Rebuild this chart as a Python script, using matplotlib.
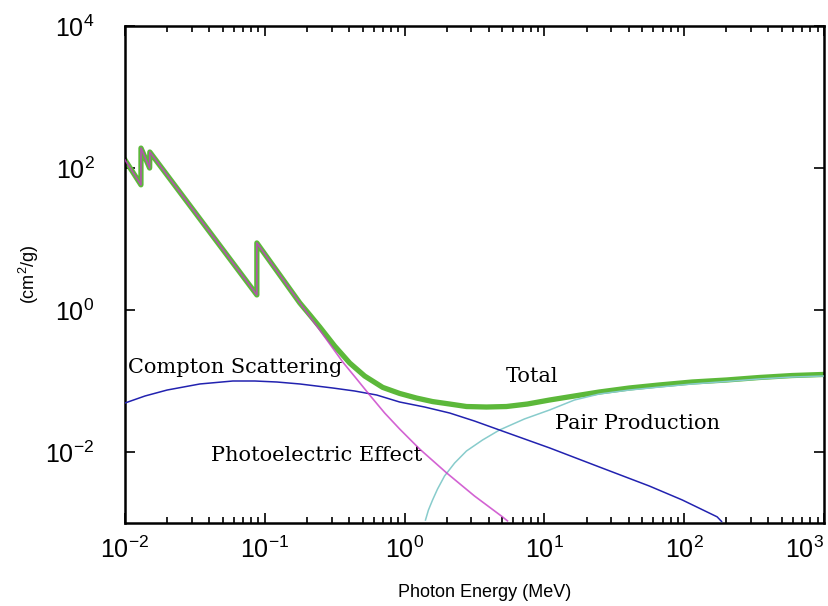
import matplotlib
matplotlib.use('Agg')
import matplotlib.pyplot as plt
from matplotlib.ticker import LogLocator, NullFormatter, FixedLocator

plt.rcParams['font.family'] = ['Liberation Sans', 'DejaVu Sans']
plt.rcParams['mathtext.fontset'] = 'custom'
plt.rcParams['mathtext.rm'] = 'Liberation Sans'
plt.rcParams['mathtext.it'] = 'Liberation Sans:italic'

# --- Mass attenuation data (energy in MeV, mu in cm^2/g) ---
total_E = [0.01, 0.0130, 0.01301, 0.0150, 0.01505, 0.0877, 0.08771, 0.178, 0.210, 0.247,
           0.316, 0.405, 0.518, 0.697, 0.921, 1.218, 1.585, 2.10, 2.77, 3.85, 5.35, 7.56,
           10.9, 16.4, 24.7, 40.5, 66.3, 114, 200, 343, 591, 985]
total_mu = [130, 58, 191, 100, 168, 1.63, 8.8, 1.256, 0.851, 0.577,
            0.311, 0.179, 0.1175, 0.0813, 0.0668, 0.0575, 0.0513, 0.0474, 0.0437, 0.0430, 0.0437, 0.0474,
            0.0540, 0.0615, 0.0700, 0.0797, 0.0879, 0.0968, 0.1033, 0.1120, 0.1194, 0.1236]

photo_E = [0.01, 0.0130, 0.01301, 0.0150, 0.01505, 0.0877, 0.08771, 0.178, 0.210, 0.247,
           0.2985, 0.361, 0.454, 0.562, 0.720, 0.921, 1.28, 2.0, 3.16, 5.01, 5.44]
photo_mu = [130, 58, 191, 100, 168, 1.63, 8.8, 1.256, 0.809, 0.522,
            0.311, 0.185, 0.1067, 0.0635, 0.0354, 0.0211, 0.01102, 0.00506, 0.00240, 0.00122, 0.00107]

compton_E = [0.01, 0.0139, 0.0200, 0.0343, 0.0591, 0.0848, 0.122, 0.178, 0.306, 0.439, 0.631,
             0.921, 1.39, 2.10, 3.16, 4.77, 10.9, 24.7, 56.2, 96.8, 172, 185]
compton_mu = [0.0490, 0.0615, 0.0746, 0.0908, 0.100, 0.100, 0.0968, 0.0908, 0.0797, 0.0723, 0.0635,
              0.0506, 0.0430, 0.0354, 0.0273, 0.0204, 0.0114, 0.00615, 0.00332, 0.00211, 0.00122, 0.00105]

pair_E = [1.41, 1.48, 1.585, 1.72, 1.93, 2.28, 2.77, 3.61, 4.77, 7.20, 10.9, 16.4, 24.7,
          40.5, 66.3, 114, 200, 343, 591, 985]
pair_mu = [0.00110, 0.00152, 0.00211, 0.00301, 0.00459, 0.0070, 0.01033, 0.01476, 0.0204, 0.0292,
           0.0391, 0.0540, 0.0656, 0.0746, 0.0822, 0.0908, 0.0984, 0.1067, 0.1138, 0.1175]

x_ticks = [1e-2, 1e-1, 1e0, 1e1, 1e2, 1e3]
x_labels = ['$10^{-2}$', '$10^{-1}$', '$10^{0}$', '$10^{1}$', '$10^{2}$', '$10^{3}$']
y_ticks = [1e-2, 1e0, 1e2, 1e4]
y_labels = ['$10^{-2}$', '$10^{0}$', '$10^{2}$', '$10^{4}$']

fig = plt.figure(figsize=(8.29, 6.06), dpi=100)
ax = fig.add_axes([0.1508, 0.137, 0.8432, 0.820])

ax.plot(total_E, total_mu, color='#5cb83a', linewidth=3.8, zorder=2)
ax.plot(pair_E, pair_mu, color='#88cccc', linewidth=1.1, zorder=3)
ax.plot(compton_E, compton_mu, color='#2222b0', linewidth=1.1, zorder=3)
ax.plot(photo_E, photo_mu, color='#c83cc8', linewidth=1.2, alpha=0.8, zorder=4)

ax.set_xscale('log')
ax.set_yscale('log')
ax.set_xlim(1e-2, 1e3)
ax.set_ylim(1e-3, 1e4)

ax.set_xticks(x_ticks)
ax.set_xticklabels(x_labels, fontsize=18)
ax.get_xticklabels()[-1].set_horizontalalignment('right')
ax.xaxis.set_minor_locator(LogLocator(base=10, subs=range(2, 10), numticks=20))
ax.xaxis.set_minor_formatter(NullFormatter())
ax.yaxis.set_major_locator(FixedLocator(y_ticks))
ax.set_yticklabels(y_labels, fontsize=18)
ax.yaxis.set_minor_locator(FixedLocator([]))

ax.tick_params(which='both', direction='in', top=True, right=True, width=1.2)
ax.tick_params(which='major', length=7)
ax.tick_params(which='minor', length=4)
ax.tick_params(axis='x', pad=10)
ax.tick_params(axis='y', pad=22)
for s in ax.spines.values():
    s.set_linewidth(1.8)

ax.set_xlabel('Photon Energy (MeV)', fontsize=13, labelpad=15)
ax.xaxis.label.set_x(0.514)
ax.set_ylabel('(cm$^{2}$/g)', fontsize=13, labelpad=3)

serif = ['DejaVu Serif']
ax.text(0.0105, 0.157, 'Compton Scattering', family=serif, fontsize=15, va='center', ha='left')
ax.text(8.2, 0.114, 'Total', family=serif, fontsize=15, va='center', ha='center')
ax.text(12.0, 0.0248, 'Pair Production', family=serif, fontsize=15, va='center', ha='left')
ax.text(0.0411, 0.00879, 'Photoelectric Effect', family=serif, fontsize=15, va='center', ha='left')

plt.savefig('out.png', dpi=100)
